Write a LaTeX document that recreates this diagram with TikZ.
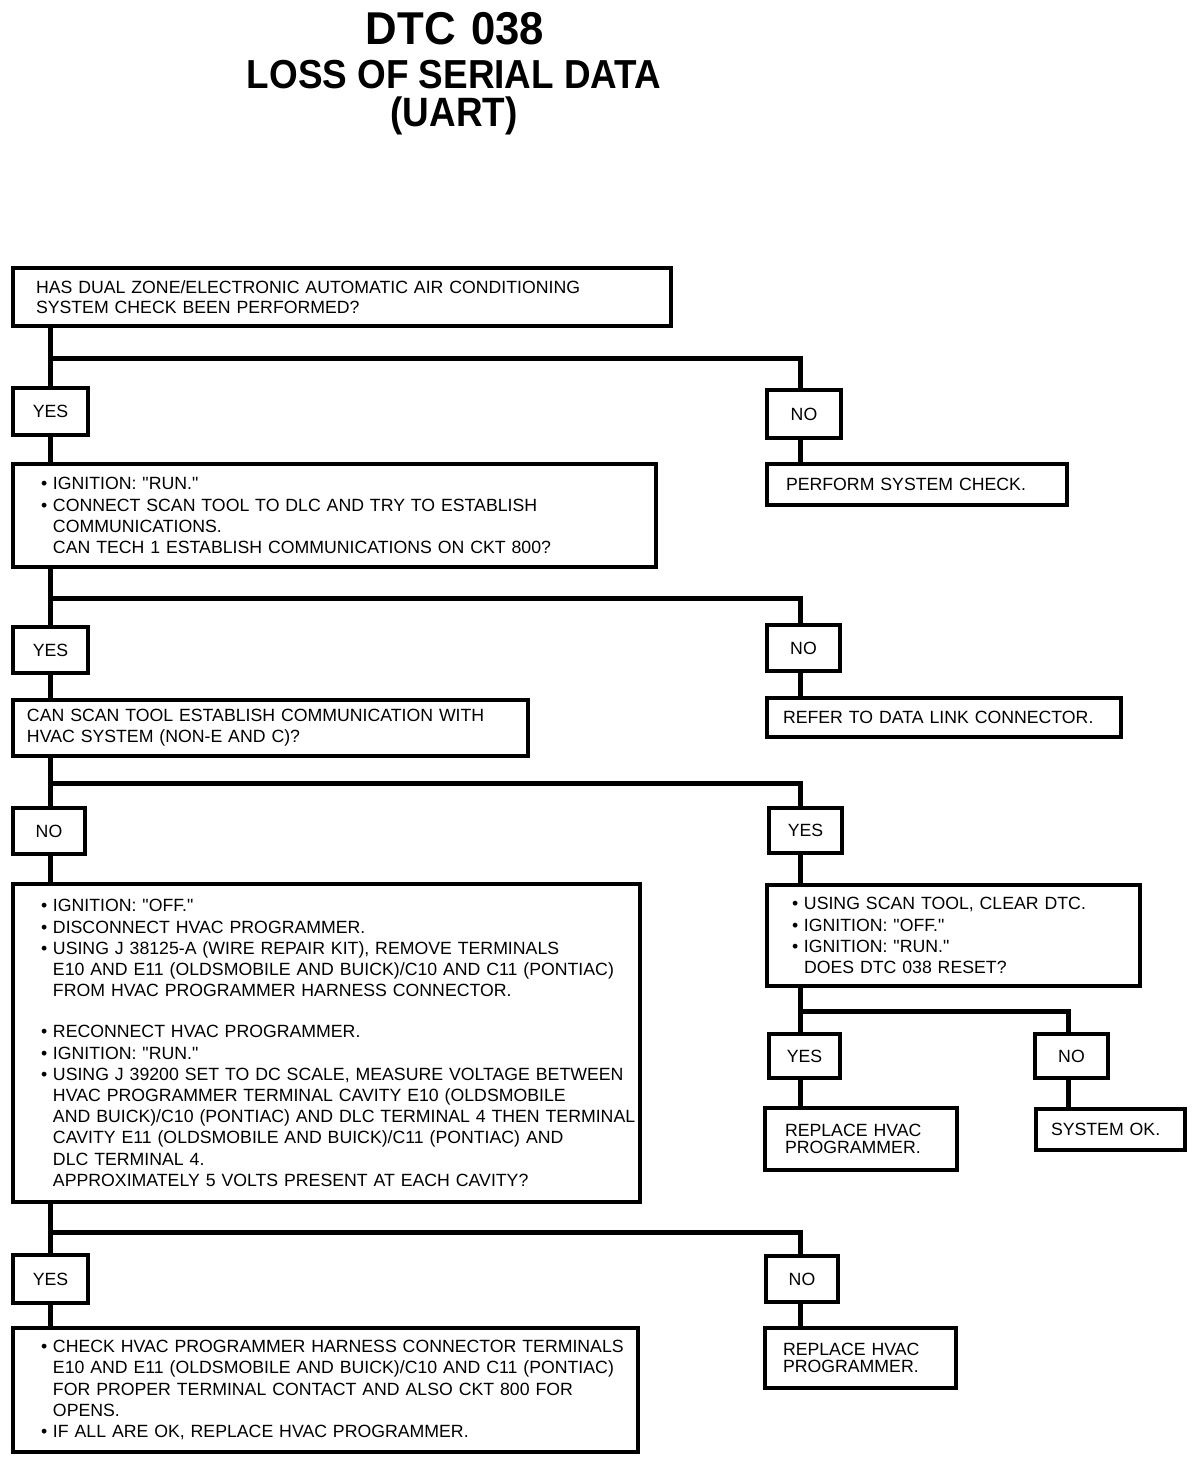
\documentclass[tikz,border=0pt]{standalone}
\usepackage{fontspec}
\setmainfont{Liberation Sans}[Ligatures=TeXOff]
\setlength{\parindent}{0pt}
\newcommand\fs{\fontsize{17.7}{21.2}\selectfont}
\newcommand\fsn{\fontsize{17.7}{17}\selectfont}
\newcommand\bl[1]{\mbox{\makebox[12pt][l]{\textbullet}#1}}
\newcommand\cl[1]{\mbox{\hspace*{12pt}#1}}
\newcommand\pl[1]{\mbox{#1}}
\tikzset{
  box/.style={draw, line width=3.5pt, outer sep=0pt, inner ysep=0pt, anchor=north west, align=left, font=\fs},
  lab/.style={draw, line width=3.5pt, outer sep=0pt, inner sep=0pt, anchor=north west, font=\fs},
  conn/.style={line width=5pt},
  ttl/.style={anchor=base, inner sep=0pt, font=\bfseries},
}
\begin{document}
\begin{tikzpicture}[x=1pt, y=-1pt]
\fill[white] (0,0) rectangle (1200,1484);
\useasboundingbox (0,0) rectangle (1200,1484);

% title
\node[ttl, font=\bfseries\fontsize{46}{50}\selectfont, xscale=0.95] (t1) at (455,44) {DTC\hspace{0.35em}038};
\node[ttl, font=\bfseries\fontsize{40.5}{44}\selectfont, xscale=0.91] (t2) at (454,88) {LOSS OF SERIAL DATA};
\node[ttl, font=\bfseries\fontsize{41}{44}\selectfont, xscale=0.9] (t3) at (454,126) {(UART)};

% reference x positions
\coordinate (tx) at (50,0);
\coordinate (rx) at (800,0);
\coordinate (r2x) at (1068,0);

% boxes
\node[box, minimum width=658pt, minimum height=58pt, text width=612pt, inner xsep=23pt, font=\fontsize{17.7}{20}\selectfont] (b1) at (13,268)
 {\pl{HAS DUAL ZONE/ELECTRONIC AUTOMATIC AIR CONDITIONING}\\\pl{SYSTEM CHECK BEEN PERFORMED?}};
\node[lab, minimum width=75pt, minimum height=47pt] (yes1) at (13,388) {YES};
\node[lab, minimum width=74pt, minimum height=48pt] (no1) at (767,390) {NO};

\node[box, minimum width=643pt, minimum height=103pt, text width=587pt, inner xsep=28pt] (b2) at (13,464)
 {\bl{IGNITION: "RUN."}\\
  \bl{CONNECT SCAN TOOL TO DLC AND TRY TO ESTABLISH}\\
  \cl{COMMUNICATIONS.}\\
  \cl{CAN TECH 1 ESTABLISH COMMUNICATIONS ON CKT 800?}};
\node[box, minimum width=300pt, minimum height=41pt, text width=262pt, inner xsep=19pt] (perf) at (767,464)
 {\pl{PERFORM SYSTEM CHECK.}};

\node[lab, minimum width=75pt, minimum height=46pt] (yes2) at (13,627) {YES};
\node[lab, minimum width=73pt, minimum height=46pt] (no2) at (767,625) {NO};

\node[box, minimum width=515pt, minimum height=56pt, text width=487pt, inner xsep=14pt] (b3) at (13,700)
 {\pl{CAN SCAN TOOL ESTABLISH COMMUNICATION WITH}\\\pl{HVAC SYSTEM (NON-E AND C)?}};
\node[box, minimum width=354pt, minimum height=39pt, text width=322pt, inner xsep=16pt] (refer) at (767,698)
 {\pl{REFER TO DATA LINK CONNECTOR.}};

\node[lab, minimum width=72pt, minimum height=46pt] (no3) at (13,808) {NO};
\node[lab, minimum width=73pt, minimum height=45pt] (yes3) at (769,808) {YES};

\node[box, minimum width=627pt, minimum height=318pt, text width=571pt, inner xsep=28pt] (b4) at (13,884)
 {\bl{IGNITION: "OFF."}\\
  \bl{DISCONNECT HVAC PROGRAMMER.}\\
  \bl{USING J 38125-A (WIRE REPAIR KIT), REMOVE TERMINALS}\\
  \cl{E10 AND E11 (OLDSMOBILE AND BUICK)/C10 AND C11 (PONTIAC)}\\
  \cl{FROM HVAC PROGRAMMER HARNESS CONNECTOR.}\\[20pt]
  \bl{RECONNECT HVAC PROGRAMMER.}\\
  \bl{IGNITION: "RUN."}\\
  \bl{USING J 39200 SET TO DC SCALE, MEASURE VOLTAGE BETWEEN}\\
  \cl{HVAC PROGRAMMER TERMINAL CAVITY E10 (OLDSMOBILE}\\
  \cl{AND BUICK)/C10 (PONTIAC) AND DLC TERMINAL 4 THEN TERMINAL}\\
  \cl{CAVITY E11 (OLDSMOBILE AND BUICK)/C11 (PONTIAC) AND}\\
  \cl{DLC TERMINAL 4.}\\
  \cl{APPROXIMATELY 5 VOLTS PRESENT AT EACH CAVITY?}};

\node[box, minimum width=373pt, minimum height=101pt, text width=323pt, inner xsep=25pt] (b5) at (767,885)
 {\bl{USING SCAN TOOL, CLEAR DTC.}\\
  \bl{IGNITION: "OFF."}\\
  \bl{IGNITION: "RUN."}\\
  \cl{DOES DTC 038 RESET?}};

\node[lab, minimum width=71pt, minimum height=44pt] (yes4) at (769,1034) {YES};
\node[lab, minimum width=73pt, minimum height=44pt] (no4) at (1035,1034) {NO};

\node[box, minimum width=192pt, minimum height=62pt, text width=152pt, inner xsep=20pt, font=\fsn] (repA) at (765,1108)
 {\pl{REPLACE HVAC}\\\pl{PROGRAMMER.}};
\node[box, minimum width=149pt, minimum height=41pt, text width=119pt, inner xsep=15pt] (sysok) at (1036,1109)
 {\pl{SYSTEM OK.}};

\node[lab, minimum width=75pt, minimum height=48pt] (yes5) at (13,1255) {YES};
\node[lab, minimum width=72pt, minimum height=46pt] (no5) at (766,1256) {NO};

\node[box, minimum width=625pt, minimum height=124pt, text width=569pt, inner xsep=28pt] (b6) at (13,1328)
 {\bl{CHECK HVAC PROGRAMMER HARNESS CONNECTOR TERMINALS}\\
  \cl{E10 AND E11 (OLDSMOBILE AND BUICK)/C10 AND C11 (PONTIAC)}\\
  \cl{FOR PROPER TERMINAL CONTACT AND ALSO CKT 800 FOR}\\
  \cl{OPENS.}\\
  \bl{IF ALL ARE OK, REPLACE HVAC PROGRAMMER.}};
\node[box, minimum width=191pt, minimum height=60pt, text width=155pt, inner xsep=18pt, font=\fsn] (repB) at (765,1328)
 {\pl{REPLACE HVAC}\\\pl{PROGRAMMER.}};

% junction coordinates
\coordinate (h1) at (50,358);
\coordinate (h2) at (50,598);
\coordinate (h3) at (50,783);
\coordinate (h4) at (800,1011);
\coordinate (h5) at (50,1232);

% connectors
\draw[conn] (b1.south -| tx) -- (yes1.north -| tx);
\draw[conn] (h1) -| (no1.north -| rx);
\draw[conn] (no1.south -| rx) -- (perf.north -| rx);
\draw[conn] (yes1.south -| tx) -- (b2.north -| tx);

\draw[conn] (b2.south -| tx) -- (yes2.north -| tx);
\draw[conn] (h2) -| (no2.north -| rx);
\draw[conn] (no2.south -| rx) -- (refer.north -| rx);
\draw[conn] (yes2.south -| tx) -- (b3.north -| tx);

\draw[conn] (b3.south -| tx) -- (no3.north -| tx);
\draw[conn] (h3) -| (yes3.north -| rx);
\draw[conn] (no3.south -| tx) -- (b4.north -| tx);
\draw[conn] (yes3.south -| rx) -- (b5.north -| rx);

\draw[conn] (b5.south -| rx) -- (yes4.north -| rx);
\draw[conn] (h4) -| (no4.north -| r2x);
\draw[conn] (yes4.south -| rx) -- (repA.north -| rx);
\draw[conn] (no4.south -| r2x) -- (sysok.north -| r2x);

\draw[conn] (b4.south -| tx) -- (yes5.north -| tx);
\draw[conn] (h5) -| (no5.north -| rx);
\draw[conn] (no5.south -| rx) -- (repB.north -| rx);
\draw[conn] (yes5.south -| tx) -- (b6.north -| tx);
\end{tikzpicture}
\end{document}
